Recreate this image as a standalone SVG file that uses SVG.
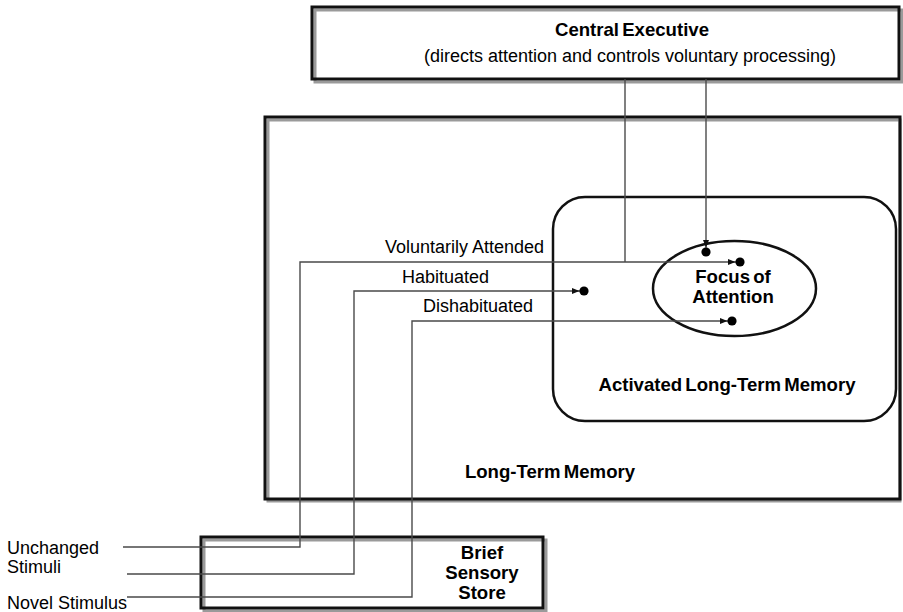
<svg xmlns="http://www.w3.org/2000/svg" width="903" height="612" viewBox="0 0 903 612">
<style>
  .box { fill: none; stroke: #111; stroke-width: 3; }
  .shadow { fill: none; stroke: #9a9a9a; stroke-width: 3; }
  .inner { fill: none; stroke: #111; stroke-width: 2.5; }
  .conn { fill: none; stroke: #4a4a4a; stroke-width: 1.4; }
  .b { font-family: "Liberation Sans", Arial, sans-serif; font-weight: bold; font-size: 18.6px; fill: #000; word-spacing: -2px; }
  .r { font-family: "Liberation Sans", Arial, sans-serif; font-size: 18px; fill: #000; }
</style>
<defs>
  <marker id="arrowdot" markerUnits="userSpaceOnUse" markerWidth="24" markerHeight="14" viewBox="-14 -7 24 14" refX="0" refY="0" orient="auto" overflow="visible">
    <path d="M-12,-3 L-4.5,0 L-12,3 z" fill="#111"/>
    <circle cx="0" cy="0" r="4.6" fill="#000"/>
  </marker>
</defs>
<rect width="903" height="612" fill="#fff"/>

<g id="central-executive">
  <rect class="shadow" x="315" y="10" width="587" height="72"/>
  <rect class="box" x="312" y="7" width="587" height="72" fill="#fff"/>
  <text class="b" x="632" y="36" text-anchor="middle">Central Executive</text>
  <text class="r" x="630" y="62" text-anchor="middle">(directs attention and controls voluntary processing)</text>
</g>

<g id="long-term-memory">
  <rect class="shadow" x="268" y="120" width="632" height="381"/>
  <rect class="box" x="265" y="117" width="635" height="382"/>
  <text class="b" x="550" y="478" text-anchor="middle">Long-Term Memory</text>
</g>

<g id="activated-ltm">
  <rect class="inner" x="553" y="197" width="343" height="224" rx="32" ry="32"/>
  <text class="b" x="727" y="391" text-anchor="middle">Activated Long-Term Memory</text>
</g>

<g id="focus-of-attention">
  <ellipse class="inner" cx="734.5" cy="288.5" rx="81.5" ry="47.5"/>
  <text class="b" x="733" y="283" text-anchor="middle">Focus of</text>
  <text class="b" x="733" y="303" text-anchor="middle">Attention</text>
</g>

<g id="brief-sensory-store">
  <rect class="shadow" x="204" y="540" width="342" height="71"/>
  <rect class="box" x="201" y="537" width="342" height="71"/>
  <text class="b" x="482" y="559" text-anchor="middle">Brief</text>
  <text class="b" x="482" y="579" text-anchor="middle">Sensory</text>
  <text class="b" x="482" y="599" text-anchor="middle">Store</text>
</g>

<g id="inputs">
  <text class="r" x="7" y="554">Unchanged</text>
  <text class="r" x="7" y="573">Stimuli</text>
  <text class="r" x="7" y="609">Novel Stimulus</text>
</g>

<g id="connectors">
  <path class="conn" d="M123,547 H300 V262 H740" marker-end="url(#arrowdot)"/>
  <path class="conn" d="M127,574 H354 V291 H584" marker-end="url(#arrowdot)"/>
  <path class="conn" d="M127,597 H412 V321 H732" marker-end="url(#arrowdot)"/>
  <path class="conn" d="M625,79 V262"/>
  <path class="conn" d="M706,79 V252" marker-end="url(#arrowdot)"/>
  <text class="r" x="385" y="253">Voluntarily Attended</text>
  <text class="r" x="402" y="283">Habituated</text>
  <text class="r" x="423" y="312">Dishabituated</text>
</g>
</svg>
